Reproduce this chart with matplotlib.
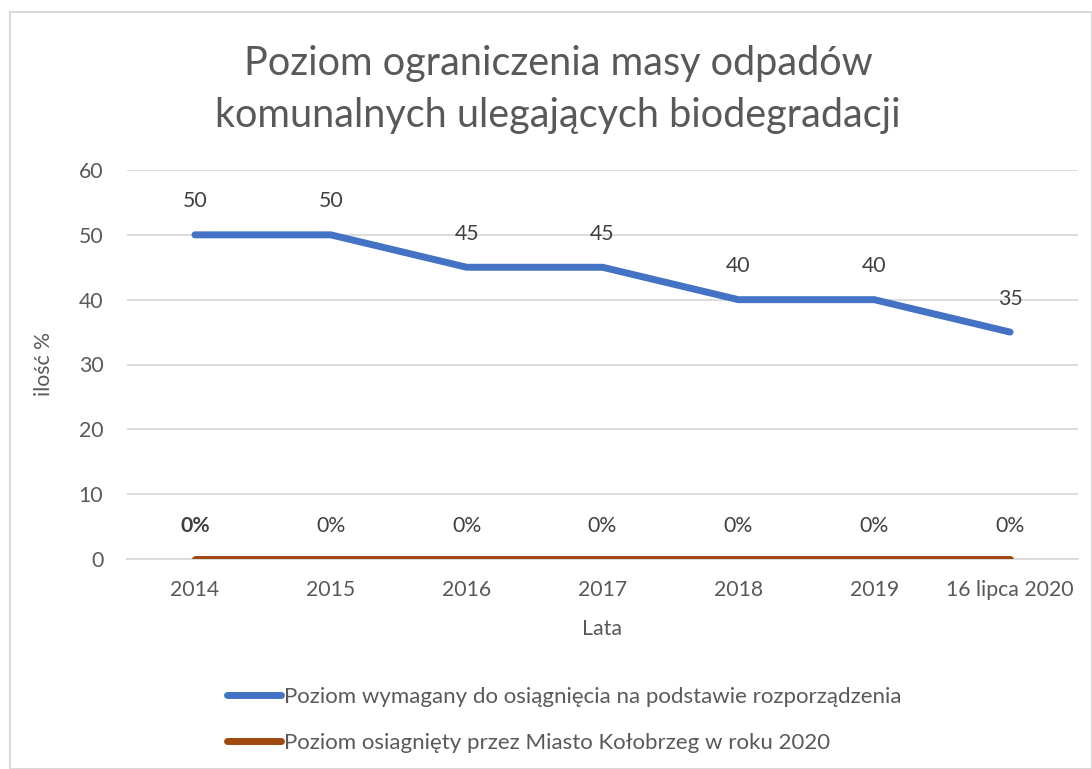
import matplotlib
matplotlib.use('Agg')
import matplotlib.pyplot as plt
from matplotlib.patches import Rectangle
from matplotlib.lines import Line2D

plt.rcParams['font.family'] = ['Lato', 'DejaVu Sans']

years = ['2014', '2015', '2016', '2017', '2018', '2019', '16 lipca 2020']
required = [50, 50, 45, 45, 40, 40, 35]      # Poziom wymagany
achieved = [0, 0, 0, 0, 0, 0, 0]             # Poziom osiągnięty
achieved_labels = ['0%', '0%', '0%', '0%', '0%', '0%', '0%']

title = 'Poziom ograniczenia masy odpadów\nkomunalnych ulegających biodegradacji'
name_req = 'Poziom wymagany do osiągnięcia na podstawie rozporządzenia'
name_ach = 'Poziom osiagnięty przez Miasto Kołobrzeg w roku 2020'

txt = '#595959'
blue = '#4472C4'
brown = '#9E480E'
grid = '#D9D9D9'
fs = 15.3

fig = plt.figure(figsize=(10.92, 7.69), dpi=100)
# chart frame
fig.patches.append(Rectangle((10/1092, 0), 1 - 10/1092, 1 - 12/769, transform=fig.transFigure,
                             fill=False, edgecolor='#D9D9D9', linewidth=1.5))

ax = fig.add_axes([127/1092, 1 - 559/769, (1078 - 127)/1092, (559 - 170)/769])
x = list(range(len(years)))

ax.plot(x, required, color=blue, lw=5, solid_capstyle='round', solid_joinstyle='round', zorder=3)
ax.plot(x, achieved, color=brown, lw=5, solid_capstyle='round', zorder=3)

for i, v in enumerate(required):
    ax.annotate(str(v), (i, v), xytext=(0, 24), textcoords='offset points',
                ha='center', va='center', fontsize=fs, color='#404040')
for i, v in enumerate(achieved):
    ax.annotate(achieved_labels[i], (i, v), xytext=(0, 24), textcoords='offset points',
                ha='center', va='center', fontsize=fs, color='#404040',
                fontweight='bold' if i == 0 else 'normal')

ax.set_xlim(-0.5, len(years) - 0.5)
ax.set_ylim(0, 60)
ax.set_yticks(range(0, 61, 10))
ax.set_xticks(x)
ax.set_xticklabels(years)
ax.tick_params(length=0, labelsize=fs, labelcolor=txt)
ax.tick_params(axis='x', pad=15)
ax.tick_params(axis='y', pad=17)
ax.grid(axis='y', color=grid, lw=1.3)
ax.set_axisbelow(True)
for s in ['top', 'right', 'left']:
    ax.spines[s].set_visible(False)
ax.spines['bottom'].set_color(grid)
ax.spines['bottom'].set_linewidth(1.3)

ax.set_xlabel('Lata', fontsize=fs, color=txt, labelpad=14)
ax.set_ylabel('ilość %', fontsize=fs, color=txt, labelpad=18)

fig.text(558/1092, 1 - 89/769, title, ha='center', va='center', fontsize=28.5,
         color=txt, linespacing=1.5)

handles = [Line2D([], [], color=blue, lw=5, solid_capstyle='round'),
           Line2D([], [], color=brown, lw=5, solid_capstyle='round')]
fig.legend(handles, [name_req, name_ach], loc='center left',
           bbox_to_anchor=(218/1092, 1 - 720/769), frameon=False, fontsize=16,
           labelcolor=txt, handlelength=2.45, handletextpad=0.1, labelspacing=1.15,
           borderaxespad=0)

fig.savefig('out.png', dpi=100)
